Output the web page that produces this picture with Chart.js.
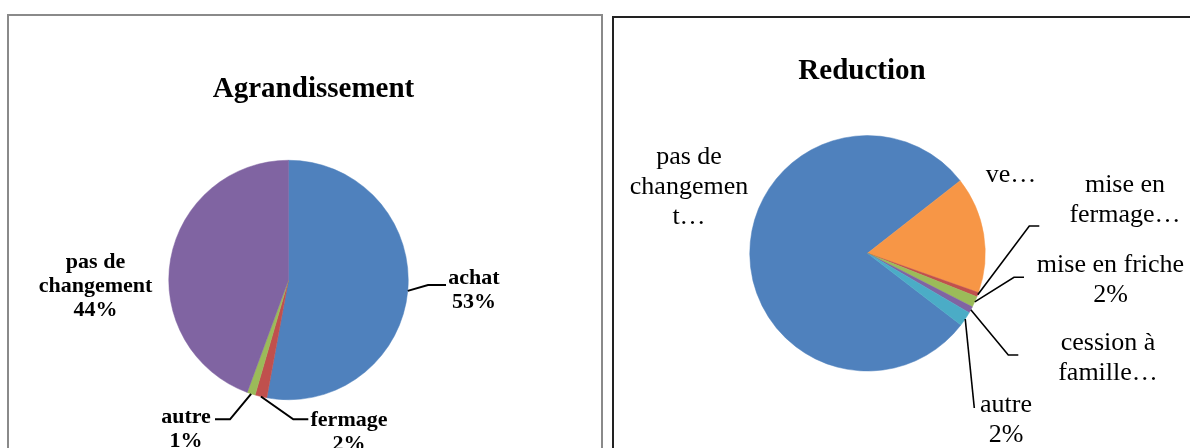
<!DOCTYPE html>
<html>
<head>
<meta charset="utf-8">
<script src="https://cdn.jsdelivr.net/npm/chart.js@4.4.1/dist/chart.umd.min.js"></script>
<style>
  html, body { margin: 0; padding: 0; background: #fff; overflow: hidden; width: 1190px; height: 448px; }
  .panel { position: absolute; box-sizing: border-box; background: #fff; }
  #leftPanel { left: 7px; top: 14px; width: 596px; height: 470px; border: 2px solid #8a8a8a; }
  #rightPanel { left: 612px; top: 16px; width: 600px; height: 470px; border: 2px solid #222; }
  canvas { position: absolute; left: 0; top: 0; }
</style>
</head>
<body>
<div class="panel" id="leftPanel"></div>
<div class="panel" id="rightPanel"></div>
<canvas id="agrChart" width="1190" height="448"></canvas>
<canvas id="redChart" width="1190" height="448"></canvas>
<script>
// Agrandissement
const agrLabels = ['achat', 'fermage', 'autre', 'pas de changement'];
const agrValues = [52.9, 1.6, 1.1, 44.4];
const agrColors = ['#4F81BD', '#C0504D', '#9BBB59', '#8064A2'];

// Reduction
const redLabels = ['pas de changement', 'vente', 'mise en fermage', 'mise en friche', 'cession à famille', 'autre'];
const redValues = [79, 16, 0.6, 1.5, 0.9, 2];
const redColors = ['#4F81BD', '#F79646', '#C0504D', '#9BBB59', '#8064A2', '#4BACC6'];

const pct = v => Math.round(v) + '%';

// label text as it shows on the chart (excel truncated some of them)
const agrText = [
  ['achat', pct(agrValues[0])],
  ['fermage', pct(agrValues[1])],
  ['autre', pct(agrValues[2])],
  ['pas de', 'changement', pct(agrValues[3])],
];
const redText = [
  ['pas de', 'changemen', 't…'],
  ['ve…'],
  ['mise en', 'fermage…'],
  ['mise en friche', pct(redValues[3])],
  ['cession à', 'famille…'],
  ['autre', pct(redValues[5])],
];

// label placement, relative to the pie centre
const agrPlace = [
  { dx: 185.5, dy: -2, leader: [[139.5, 5], [157.5, 5]] },
  { dx: 60.5, dy: 140, leader: [[4.8, 139.3], [19.8, 139.3]] },
  { dx: -102.5, dy: 137, leader: [[-58.5, 139.3], [-73.5, 139.3]] },
  { dx: -193, dy: -18, leader: null },
];
const redPlace = [
  { dx: -178.5, dy: -96.3, leader: null },
  { dx: 143.5, dy: -78.3, leader: null },
  { dx: 257.5, dy: -68.3, leader: [[161.8, -27.3], [171.8, -27.3]] },
  { dx: 243, dy: 11.7, leader: [[146.5, 24], [156.5, 24]] },
  { dx: 240.5, dy: 89.7, leader: [[140.8, 101.7], [150.8, 101.7]] },
  { dx: 138.5, dy: 151.7, leader: [[106.8, 154.7]] },
];

const calloutPlugin = {
  id: 'callouts',
  afterDatasetsDraw(chart, args, opts) {
    const ctx = chart.ctx;
    const arcs = chart.getDatasetMeta(0).data;
    ctx.save();
    ctx.fillStyle = '#000';
    ctx.textAlign = 'center';
    ctx.textBaseline = 'alphabetic';
    ctx.font = opts.titleFont;
    ctx.fillText(opts.title, opts.titleX, opts.titleY);

    arcs.forEach((arc, i) => {
      const p = arc.getProps(['x', 'y', 'startAngle', 'endAngle', 'outerRadius'], true);
      const mid = (p.startAngle + p.endAngle) / 2;
      const ex = p.x + Math.cos(mid) * p.outerRadius;
      const ey = p.y + Math.sin(mid) * p.outerRadius;
      const place = opts.place[i];
      if (place.leader) {
        ctx.beginPath();
        ctx.moveTo(ex, ey);
        place.leader.forEach(([dx, dy]) => ctx.lineTo(p.x + dx, p.y + dy));
        ctx.strokeStyle = '#000';
        ctx.lineWidth = opts.leaderWidth;
        ctx.stroke();
      }
      ctx.font = opts.labelFont;
      ctx.textBaseline = 'middle';
      opts.text[i].forEach((t, k) => {
        ctx.fillText(t, p.x + place.dx, p.y + place.dy + k * opts.lineHeight);
      });
    });
    ctx.restore();
  }
};

new Chart(document.getElementById('agrChart'), {
  type: 'pie',
  data: {
    labels: agrLabels,
    datasets: [{ data: agrValues, backgroundColor: agrColors, borderColor: agrColors, borderWidth: 0.5 }]
  },
  options: {
    responsive: false,
    animation: false,
    events: [],
    rotation: 0,
    layout: { padding: { left: 168.5, right: 781.5, top: 160, bottom: 48 } },
    plugins: {
      legend: { display: false },
      tooltip: { enabled: false },
      callouts: {
        title: 'Agrandissement',
        titleFont: 'bold 29px "Liberation Serif", "Times New Roman", serif',
        titleX: 313.5,
        titleY: 96.5,
        labelFont: 'bold 22px "Liberation Serif", "Times New Roman", serif',
        lineHeight: 24,
        leaderWidth: 2,
        text: agrText,
        place: agrPlace,
      }
    }
  },
  plugins: [calloutPlugin]
});

new Chart(document.getElementById('redChart'), {
  type: 'pie',
  data: {
    labels: redLabels,
    datasets: [{ data: redValues, backgroundColor: redColors, borderColor: redColors, borderWidth: 0.5 }]
  },
  options: {
    responsive: false,
    animation: false,
    events: [],
    rotation: 127.5,
    layout: { padding: { left: 749.5, right: 204.5, top: 135.3, bottom: 76.7 } },
    plugins: {
      legend: { display: false },
      tooltip: { enabled: false },
      callouts: {
        title: 'Reduction',
        titleFont: 'bold 29px "Liberation Serif", "Times New Roman", serif',
        titleX: 862,
        titleY: 78.5,
        labelFont: '26px "Liberation Serif", "Times New Roman", serif',
        lineHeight: 30,
        leaderWidth: 1.6,
        text: redText,
        place: redPlace,
      }
    }
  },
  plugins: [calloutPlugin]
});
</script>
</body>
</html>
